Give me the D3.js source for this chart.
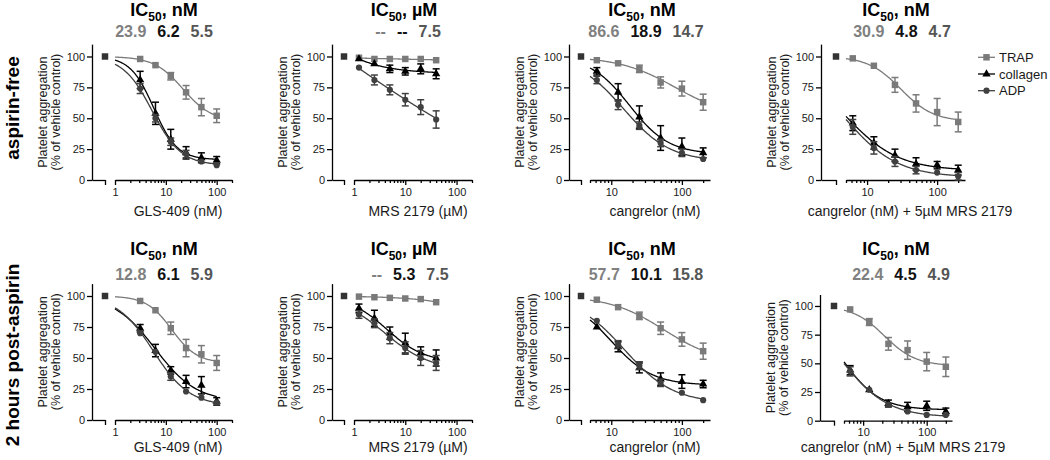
<!DOCTYPE html>
<html><head><meta charset="utf-8">
<script src="https://cdn.jsdelivr.net/npm/d3@7"></script>
<style>
body{margin:0;background:#fff}
svg{display:block}
text{font-family:"Liberation Sans",Arial,Helvetica,sans-serif}
</style></head>
<body><svg id="c" width="1050" height="460"></svg>
<script>
// ---------------- DATA ----------------
const seriesNames = ["TRAP", "collagen", "ADP"];
const rowLabels = ["aspirin-free", "2 hours post-aspirin"];
const concGLS = [3.125, 6.25, 12.5, 25, 50, 100];
const concMRS = [1.25, 2.5, 5, 10, 20, 40];
const concCang = [6.25, 12.5, 25, 50, 100, 200];
const controlValue = 100;
const ic50Units = ["nM", "µM", "nM", "nM", "nM", "µM", "nM", "nM"];
const ic50Labels = [
  ["23.9", "6.2", "5.5"], ["--", "--", "7.5"], ["86.6", "18.9", "14.7"], ["30.9", "4.8", "4.7"],
  ["12.8", "6.1", "5.9"], ["--", "5.3", "7.5"], ["57.7", "10.1", "15.8"], ["22.4", "4.5", "4.9"]
];
const xTitles = [
  "GLS-409 (nM)", "MRS 2179 (µM)", "cangrelor (nM)", "cangrelor (nM) + 5µM MRS 2179",
  "GLS-409 (nM)", "MRS 2179 (µM)", "cangrelor (nM)", "cangrelor (nM) + 5µM MRS 2179"
];
const yTitle = ["Platelet aggregation", "(% of vehicle control)"];
const yTickValues = [0, 25, 50, 75, 100];
const xTickValues = [[1, 10, 100], [1, 10, 100], [10, 100], [10, 100], [1, 10, 100], [1, 10, 100], [10, 100], [10, 100]];

const trapMean = [
  [98, 93, 84, 71, 59, 52], [99, 98, 98, 98, 98, 97], [97, 94.5, 90, 79, 74, 63], [98.5, 92.5, 77, 62, 55, 47],
  [96, 88.5, 74, 58, 53, 46], [99.5, 99, 98.5, 98, 97.5, 95], [97, 91, 84, 74, 65, 55.5], [97, 86, 67, 61.5, 51.5, 47]
];
const trapErr = [
  [0.5, 0.5, 3, 5.5, 7, 5.5], [1, 1, 1, 1, 1, 1], [0.5, 0.5, 3, 4.5, 6, 6.5], [0.5, 0.5, 6, 7, 11, 8],
  [0.5, 1, 5, 7, 7, 6], [0.5, 0.5, 0.5, 0.5, 0.5, 0.5], [0.5, 0.5, 3, 5, 5.5, 6.5], [0.5, 3, 5.5, 8, 8, 8.5]
];
const collagenMean = [
  [81, 54, 33, 22, 18, 16], [98, 94, 90, 88, 90, 86], [88, 71, 51, 34, 27, 22], [46, 30, 20, 13, 12, 8],
  [74, 56, 40, 31, 28, 15], [90, 82, 70, 62, 54, 50], [75, 59, 42, 33, 31, 29], [44, 27, 15, 12, 13, 8]
];
const collagenErr = [
  [7, 9, 8, 5, 4, 3], [1, 2, 3, 3, 4, 4], [3, 7, 9, 10, 7, 4], [6, 5, 5, 5, 3, 4],
  [3, 5, 3, 5, 7, 3], [3.5, 6.5, 5, 8, 5, 6.5], [2, 4, 4, 5, 5.5, 3], [4, 2.5, 3, 4, 4, 3]
];
const adpMean = [
  [74, 50, 31, 21, 15, 12], [91, 81, 73, 65, 59, 49], [81, 61, 44, 30, 22, 17], [43, 26, 15, 8, 6, 3],
  [70, 55, 35, 23, 18, 14], [85, 78, 66, 58, 50, 46], [80, 61, 44, 30, 22, 16], [43, 27, 14, 8, 5, 5]
];
const adpErr = [
  [4, 3, 3, 3, 2, 2], [2, 4, 4, 5, 6, 7], [3, 4, 3, 3, 3, 2], [6, 5, 4, 3, 1, 3],
  [2, 2, 3, 2, 1, 2], [3, 3.5, 4.5, 5, 6, 6], [2, 3, 3, 3, 2, 1], [4, 2.5, 2, 2, 1, 2]
];
const panelConc = [concGLS, concMRS, concCang, concCang, concGLS, concMRS, concCang, concCang];
const curveDomain = [[1, 100], [1.25, 40], [5, 200], [5, 200], [1, 100], [1.25, 40], [5, 200], [5, 200]];
const xDomain = [[1, 200], [1, 200], [5, 250], [5, 250], [1, 200], [1, 200], [5, 250], [5, 250]];
const freeTop = [false, true, false, false, false, false, false, false];

// ---------------- LAYOUT / STYLE ----------------
const axisX = [92, 332, 569, 821, 92, 332, 569, 820];
const ctrlX = [105, 344, 581, 836, 105, 344, 581, 834];
const logRange = [[115, 232], [354, 472], [590, 710], [846, 965], [115, 232], [354, 472], [590, 710], [844, 952]];
const yRange = [[180, 44.15], [180, 44.15], [180, 44.15], [180, 44.15], [420, 283.6], [420, 283.6], [420, 283.6], [420.7, 294.5]];
const titleX = [164, 404, 642, 896, 164, 404, 642, 896];
const valShift = [0, 4, 4, 6, 0, 6, 4, 5];
const titleY = [16, 255], valY = [37, 280];
const xTitleX = [178, 418, 655, 910, 178, 418, 655, 903];
const xTitleY = [216, 452];
const colors = ["#7a7a7a", "#000000", "#404040"];
const labelColors = ["#808080", "#111111", "#555555"];
const symbols = [d3.symbolSquare, d3.symbolTriangle, d3.symbolCircle];
const symSizes = [42, 30, 30];

const svg = d3.select("#c");

// ---------- 4PL fit (Nelder-Mead) ----------
function nelderMead(f, x0, steps, iters) {
  const n = x0.length;
  let S = [x0.slice()];
  for (let i = 0; i < n; i++) { const x = x0.slice(); x[i] += steps[i]; S.push(x); }
  let V = S.map(f);
  for (let it = 0; it < iters; it++) {
    const idx = d3.range(n + 1).sort((a, b) => V[a] - V[b]);
    S = idx.map(i => S[i]); V = idx.map(i => V[i]);
    const cen = d3.range(n).map(j => d3.mean(S.slice(0, n), p => p[j]));
    const w = S[n];
    const xr = cen.map((c, j) => c + (c - w[j])), fr = f(xr);
    if (fr < V[0]) {
      const xe = cen.map((c, j) => c + 2 * (c - w[j])), fe = f(xe);
      if (fe < fr) { S[n] = xe; V[n] = fe; } else { S[n] = xr; V[n] = fr; }
    } else if (fr < V[n - 1]) { S[n] = xr; V[n] = fr; }
    else {
      const xc = cen.map((c, j) => c + 0.5 * (w[j] - c)), fc = f(xc);
      if (fc < V[n]) { S[n] = xc; V[n] = fc; }
      else {
        for (let i = 1; i <= n; i++) { S[i] = S[i].map((v, j) => S[0][j] + 0.5 * (v - S[0][j])); V[i] = f(S[i]); }
      }
    }
  }
  const b = d3.minIndex(V);
  return S[b];
}
function fit4PL(xs, ys, ft) {
  const model = (p, c) => {
    const top = ft ? p[3] : controlValue;
    return p[0] + (top - p[0]) / (1 + Math.pow(c / Math.pow(10, p[1]), Math.exp(p[2])));
  };
  const f = p => d3.sum(xs, (c, k) => (model(p, c) - ys[k]) ** 2) + (Math.abs(p[2]) > 2.5 ? 1e3 : 0);
  let p0 = [d3.min(ys) - 5, Math.log10(d3.median(xs)), 0];
  if (ft) p0.push(d3.max(ys) + 2);
  const st = ft ? [10, 0.5, 0.3, 3] : [10, 0.5, 0.3];
  let best = nelderMead(f, p0, st, 1500);
  best = nelderMead(f, best, st.map(s => s / 3), 1500);
  return c => model(best, c);
}

// ---------------- DRAW ----------------
const meansAll = [trapMean, collagenMean, adpMean];
const errsAll = [trapErr, collagenErr, adpErr];

d3.range(8).forEach(i => {
  const row = Math.floor(i / 4);
  const g = svg.append("g");
  const x = d3.scaleLog().domain(xDomain[i]).range(logRange[i]);
  const xc = d3.scaleLinear().domain([0, 1]).range([axisX[i], ctrlX[i]]);
  const y = d3.scaleLinear().domain([0, 110]).range(yRange[i]);
  const y0 = y(0);

  // y axis
  const ya = g.append("g").attr("transform", `translate(${axisX[i]},0)`)
    .call(d3.axisLeft(y).tickValues(yTickValues).tickSize(5).tickPadding(2).tickSizeOuter(0));
  // x axis: control segment
  const xa1 = g.append("g").attr("transform", `translate(0,${y0})`)
    .call(d3.axisBottom(xc).tickValues([1]).tickSize(5).tickFormat("").tickSizeOuter(0));
  // x axis: log segment, major
  const xa2 = g.append("g").attr("transform", `translate(0,${y0})`)
    .call(d3.axisBottom(x).tickValues(xTickValues[i]).tickSize(5).tickPadding(3).tickFormat(d3.format("d")).tickSizeOuter(0));
  // minor
  const minors = x.ticks().filter(t => !xTickValues[i].includes(t));
  const xa3 = g.append("g").attr("transform", `translate(0,${y0})`)
    .call(d3.axisBottom(x).tickValues(minors).tickSize(3).tickFormat("").tickSizeOuter(0));
  xa3.select(".domain").remove();
  [ya, xa1, xa2, xa3].forEach(a => {
    a.selectAll("path,line").attr("stroke", "#000").attr("stroke-width", 1.3);
    a.selectAll("text").attr("font-size", 11).attr("fill", "#1a1a1a")
      .style("font-family", '"Liberation Sans",Arial,sans-serif');
  });

  // y title
  const ymid = (y(0) + y(110)) / 2;
  yTitle.forEach((t, k) => {
    g.append("text")
      .attr("transform", `translate(${axisX[i] - 45 + k * 12.5},${ymid}) rotate(-90)`)
      .attr("text-anchor", "middle").attr("font-size", 12.5).attr("fill", "#1a1a1a").text(t);
  });
  // x title
  g.append("text").attr("x", xTitleX[i]).attr("y", xTitleY[row]).attr("text-anchor", "middle")
    .attr("font-size", 14).attr("fill", "#1a1a1a").text(xTitles[i]);

  // panel title
  const tt = g.append("text").attr("x", titleX[i]).attr("y", titleY[row]).attr("text-anchor", "middle")
    .attr("font-size", 18).attr("font-weight", "bold").attr("fill", "#000");
  tt.append("tspan").text("IC");
  tt.append("tspan").attr("font-size", 12).attr("dy", 5).text("50");
  tt.append("tspan").attr("dy", -5).text(", " + ic50Units[i]);
  // IC50 values
  const vt = g.append("text").attr("x", titleX[i] + valShift[i]).attr("y", valY[row])
    .attr("text-anchor", "middle").attr("font-size", 16).attr("font-weight", "bold");
  ic50Labels[i].forEach((t, s) => vt.append("tspan").attr("dx", s ? 11 : 0).attr("fill", labelColors[s]).text(t));

  // control point
  g.append("path").attr("d", d3.symbol(d3.symbolSquare, 42)())
    .attr("transform", `translate(${xc(1)},${y(controlValue)})`).attr("fill", "#333");

  const pxPerUnit = (y(0) - y(100)) / 100;
  const conc = panelConc[i];
  [0, 1, 2].forEach(s => {
    const m = meansAll[s][i], e = errsAll[s][i];
    const col = colors[s];
    // fitted curve
    const model = fit4PL(conc, m, freeTop[i]);
    const [lo, hi] = curveDomain[i];
    const samples = d3.range(0, 121).map(k => lo * Math.pow(hi / lo, k / 120));
    g.append("path").datum(samples)
      .attr("d", d3.line().x(c => x(c)).y(c => y(model(c))))
      .attr("fill", "none").attr("stroke", col).attr("stroke-width", 1.3);
    // error bars
    conc.forEach((c, k) => {
      if (e[k] * pxPerUnit < 3.3) return;
      const cx = x(c), yt = y(m[k] + e[k]), yb = y(m[k] - e[k]);
      g.append("line").attr("x1", cx).attr("x2", cx).attr("y1", yt).attr("y2", yb)
        .attr("stroke", col).attr("stroke-width", 1.5);
      [yt, yb].forEach(yy => g.append("line").attr("x1", cx - 3.5).attr("x2", cx + 3.5)
        .attr("y1", yy).attr("y2", yy).attr("stroke", col).attr("stroke-width", 1.5));
    });
    // markers
    conc.forEach((c, k) => {
      g.append("path").attr("d", d3.symbol(symbols[s], symSizes[s])())
        .attr("transform", `translate(${x(c)},${y(m[k])})`).attr("fill", col);
    });
  });
});

// row labels
[108, 355].forEach((cy, r) => {
  svg.append("text").attr("transform", `translate(19,${cy}) rotate(-90)`)
    .attr("text-anchor", "middle").attr("font-size", 19).attr("font-weight", "bold")
    .attr("fill", "#000").text(rowLabels[r]);
});

// legend
const lg = svg.append("g");
[57.3, 74, 90.7].forEach((ly, s) => {
  lg.append("line").attr("x1", 978).attr("x2", 995).attr("y1", ly).attr("y2", ly)
    .attr("stroke", colors[s]).attr("stroke-width", 1.3);
  lg.append("path").attr("d", d3.symbol(symbols[s], symSizes[s])())
    .attr("transform", `translate(986.5,${ly})`).attr("fill", colors[s]);
  lg.append("text").attr("x", 999).attr("y", ly + 4.5).attr("font-size", 13).attr("fill", "#1a1a1a")
    .text(seriesNames[s]);
});
</script></body></html>
